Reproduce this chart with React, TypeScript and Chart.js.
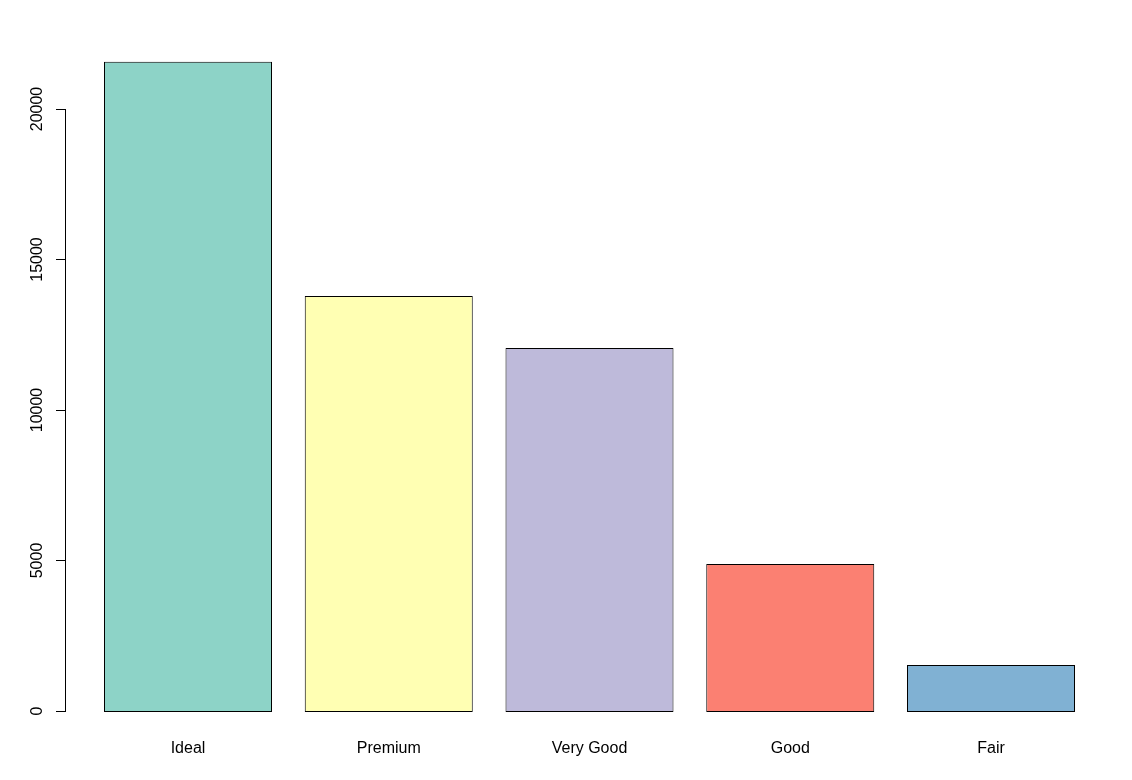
import React, { useEffect, useRef } from "react";
import { Chart, registerables } from "chart.js";

Chart.register(...registerables);

const categories = ["Ideal", "Premium", "Very Good", "Good", "Fair"];
const counts = [21600, 13820, 12090, 4920, 1560];
const yTicks = [0, 5000, 10000, 15000, 20000];
const barColors = ["#8DD3C7", "#FFFFB3", "#BEBADA", "#FB8072", "#80B1D3"];

const Y_MIN = -864;
const Y_MAX = 22392;

const FONT = "'Liberation Sans', Arial, sans-serif";

const yAxisPlugin = {
  id: "rYAxis",
  afterDraw(chart: any) {
    const ctx = chart.ctx;
    const y = chart.scales.y;
    const axisX = 57.5;
    const pix = (v: number) => Math.floor(y.getPixelForValue(v) - 0.5) + 0.5;
    ctx.save();
    ctx.strokeStyle = "#000";
    ctx.lineWidth = 1;
    ctx.beginPath();
    ctx.moveTo(axisX, pix(yTicks[yTicks.length - 1]));
    ctx.lineTo(axisX, pix(yTicks[0]));
    for (const v of yTicks) {
      const py = pix(v);
      ctx.moveTo(48, py);
      ctx.lineTo(axisX + 0.5, py);
    }
    ctx.stroke();
    ctx.fillStyle = "#000";
    ctx.font = `16px ${FONT}`;
    ctx.textAlign = "center";
    ctx.textBaseline = "middle";
    for (const v of yTicks) {
      const py = y.getPixelForValue(v) - 1;
      ctx.save();
      ctx.translate(29.5, py);
      ctx.rotate(-Math.PI / 2);
      ctx.fillText(String(v), 0, 0);
      ctx.restore();
    }
    ctx.restore();
  },
};

export default function App() {
  const ref = useRef<HTMLCanvasElement>(null);
  useEffect(() => {
    if (!ref.current) return;
    const chart = new Chart(ref.current, {
      type: "bar",
      data: {
        labels: categories,
        datasets: [
          {
            data: counts,
            backgroundColor: barColors,
            borderColor: "#000",
            borderWidth: 1,
            borderSkipped: false,
            categoryPercentage: 1,
            barPercentage: 168 / 200.75,
          },
        ],
      },
      options: {
        responsive: false,
        animation: false,
        devicePixelRatio: 1,
        layout: { padding: { left: 79.625, right: 32.625, top: 30, bottom: 0 } },
        plugins: { legend: { display: false }, tooltip: { enabled: false } },
        scales: {
          x: {
            grid: { display: false, drawTicks: false },
            border: { display: false },
            ticks: {
              color: "#000",
              font: { family: FONT, size: 16 },
              padding: 1,
              maxRotation: 0,
              minRotation: 0,
            },
            afterFit(scale: any) {
              scale.height = 34;
            },
          },
          y: {
            display: false,
            min: Y_MIN,
            max: Y_MAX,
          },
        },
      },
      plugins: [yAxisPlugin],
    });
    return () => chart.destroy();
  }, []);
  return (
    <canvas
      ref={ref}
      width={1116}
      height={764}
      style={{ display: "block", width: 1116, height: 764 }}
    />
  );
}
